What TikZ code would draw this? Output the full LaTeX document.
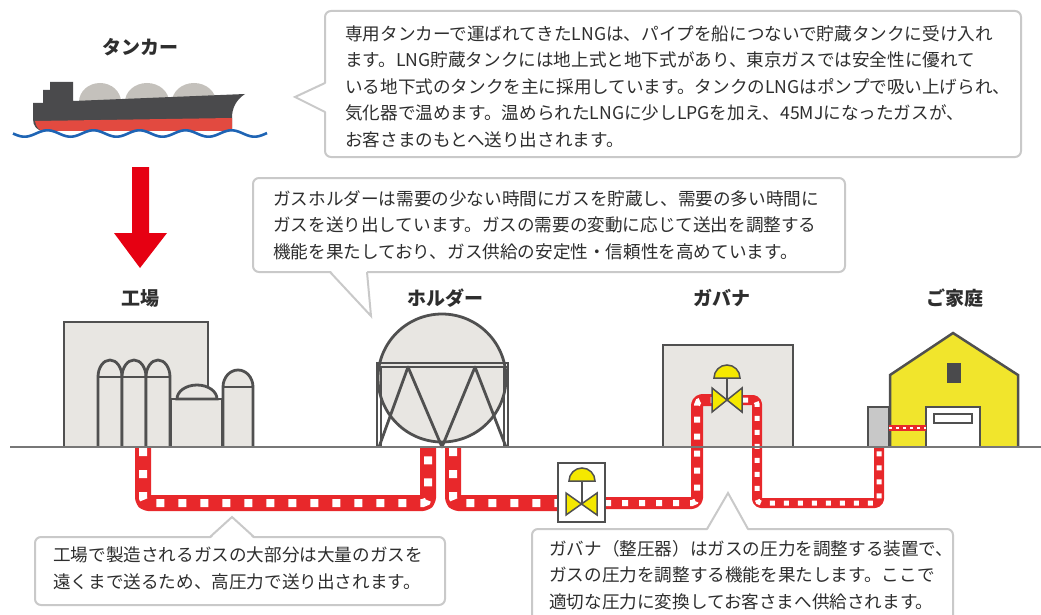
\documentclass[tikz,border=0pt]{standalone}
\usepackage{fontspec}
\setmainfont{Noto Sans CJK JP}
\definecolor{txt}{HTML}{2E2E2E}
\definecolor{calloutgray}{HTML}{C9C9C9}
\definecolor{edge}{HTML}{505050}
\definecolor{bldg}{HTML}{E8E6E2}
\definecolor{pipered}{HTML}{E8282B}
\definecolor{valveyellow}{HTML}{F5E800}
\definecolor{houseyellow}{HTML}{F1E52C}
\definecolor{hull}{HTML}{4A4A4C}
\definecolor{hullred}{HTML}{E24A40}
\definecolor{shipdome}{HTML}{C4C1BC}
\definecolor{sea}{HTML}{1E64B4}
\definecolor{arrowred}{HTML}{E60012}
\definecolor{meter}{HTML}{C8C8C8}
\definecolor{ground}{HTML}{777777}
\begin{document}
\begin{tikzpicture}[x=1pt,y=-1pt,
  callout/.style={draw=calloutgray,line width=2,fill=white,rounded corners=6},
  body/.style={font=\fontsize{17.6}{26.5}\selectfont,text=txt,align=left,anchor=north west,inner sep=0},
  title/.style={font=\bfseries\fontsize{19}{19}\selectfont,text=txt,anchor=center,inner sep=0},
  struct/.style={draw=edge,line width=2.8,fill=bldg},
  valve/.style={draw=edge,line width=1.5,fill=valveyellow},
  bigpipe/.style={draw=white,line width=8,dash pattern=on 8 off 14,rounded corners=5,
    preaction={draw=pipered,line width=16,solid,line join=round}},
  midpipe/.style={draw=white,line width=6,dash pattern=on 6 off 11,rounded corners=5,
    preaction={draw=pipered,line width=12,solid,line join=round}},
  thinpipe/.style={draw=white,line width=5,dash pattern=on 5 off 9,rounded corners=4,
    preaction={draw=pipered,line width=10,solid,line join=round}},
  housepipe/.style={draw=white,line width=2.5,dash pattern=on 3 off 4,
    preaction={draw=pipered,line width=6,solid}}]
\useasboundingbox (0,0) rectangle (1041,615);
\clip (0,0) rectangle (1041,615);

% ---------- tanker ----------
\node[title] (tankerlabel) at (140,47) {タンカー};
\foreach \cx/\r in {100/21,147/22,194/22}
  \fill[shipdome] (\cx-\r,102) arc[start angle=180,end angle=360,x radius=\r,y radius=19];
\fill[hull] (33,103) -- (43,103) -- (43,90) -- (50,90) -- (50,82) -- (73,82) -- (73,101)
  -- (245,94) .. controls (236,100) and (232,108) .. (232,118) -- (232,131)
  -- (44,131) .. controls (37,131) and (33,126) .. (33,119) -- cycle;
\fill[hullred] (35,121) -- (232,118) -- (232,131) -- (44,131)
  .. controls (39,131) and (36,127) .. cycle;
\draw[sea,line width=2.6] plot[domain=13:267,samples=160] (\x,{133.5+3.2*sin((\x-13)/46*360)});

% arrow down to the plant
\fill[arrowred] (132,167) -- (149,167) -- (149,233) -- (167,233) -- (140,268)
  -- (114,233) -- (132,233) -- cycle;

% ---------- callouts ----------
\draw[callout] (325,11) rectangle (1021,157);
\fill[white] (327,83) -- (295,97) -- (327,112) -- cycle;
\draw[calloutgray,line width=2,line join=miter] (325,83) -- (295,97) -- (325,112);
\node[body] (lngtext) at (345,25) {専用タンカーで運ばれてきたLNGは、パイプを船につないで貯蔵タンクに受け入れ\\
ます。LNG貯蔵タンクには地上式と地下式があり、東京ガスでは安全性に優れて\\
いる地下式のタンクを主に採用しています。タンクのLNGはポンプで吸い上げられ、\\
気化器で温めます。温められたLNGに少しLPGを加え、45MJになったガスが、\\
お客さまのもとへ送り出されます。};

\draw[callout] (253,178) rectangle (845,272);
\fill[white] (330,270) -- (371,316) -- (367,270) -- cycle;
\draw[calloutgray,line width=2,line join=miter] (330,272) -- (371,316) -- (367,272);
\node[body] (holdertext) at (273,190) {ガスホルダーは需要の少ない時間にガスを貯蔵し、需要の多い時間に\\
ガスを送り出しています。ガスの需要の変動に応じて送出を調整する\\
機能を果たしており、ガス供給の安定性・信頼性を高めています。};

% ---------- labels ----------
\node[title] (plantlabel) at (140,298) {工場};
\node[title] (holderlabel) at (445,298) {ホルダー};
\node[title] (govlabel) at (722,298) {ガバナ};
\node[title] (homelabel) at (955,298) {ご家庭};

% ---------- plant ----------
\draw[struct] (64,447) -- (64,322) -- (208,322) -- (208,447);
\foreach \x in {98,122,146}{
  \draw[struct] (\x,447) -- (\x,377) arc[start angle=180,end angle=360,x radius=12,y radius=17]
    -- (\x+24,447);
  \draw[edge,line width=2.8] (\x,377) -- (\x+24,377);
}
\draw[struct] (171,447) -- (171,399) -- (222,399) -- (222,447);
\draw[struct] (177,399) arc[start angle=180,end angle=360,x radius=20,y radius=14] -- cycle;
\draw[struct] (223,447) -- (223,387) arc[start angle=180,end angle=360,x radius=15,y radius=17]
  -- (253,447);
\draw[edge,line width=2.8] (223,387) -- (253,387);

% ---------- gas holder ----------
\draw[struct] (442,378) circle[radius=64];
\draw[edge,line width=2.6] (377,363) rectangle (508,367);
\draw[edge,line width=2.6] (377,367) -- (377,447) (381,367) -- (381,447)
  (504,367) -- (504,447) (508,367) -- (508,447);
\draw[edge,line width=2.8,line join=round] (379,447) -- (408,367) -- (442,447) -- (475,367) -- (506,447);

% ---------- governor station ----------
\draw[struct] (663,447) -- (663,345) -- (793,345) -- (793,447);

% ---------- house ----------
\draw[draw=edge,line width=2.5,fill=houseyellow,line join=miter]
  (890,447) -- (890,375) -- (953,333) -- (1018,375) -- (1018,447);
\fill[hull] (947,363) rectangle (961,383);
\draw[draw=edge,line width=2.2,fill=white] (926,447) -- (926,407) -- (980,407) -- (980,447);
\draw[draw=edge,line width=1.8,fill=white] (934,414) rectangle (972,423);
\draw[draw=edge,line width=2,fill=meter] (868,447) -- (868,407) -- (889,407) -- (889,447);

% ---------- pipes ----------
\draw[bigpipe] (143,448) -- (143,503) -- (428,503) -- (428,448);
\draw[bigpipe] (453,448) -- (453,503) -- (558,503);
\draw[midpipe] (605,503) -- (697,503) -- (697,400) -- (712,400);
\draw[thinpipe] (743,400) -- (757,400) -- (757,503) -- (879,503) -- (879,448);
\draw[housepipe] (889,428) -- (926,428);

% pressure regulator in the governor station
\draw[valve] (714,378) arc[start angle=180,end angle=360,radius=13] -- cycle;
\draw[edge,line width=1.5] (727,378) -- (727,400);
\draw[valve] (712,388) -- (742,412) -- (742,388) -- (712,412) -- cycle;

% line valve between holder and governor
\draw[draw=edge,line width=1.7,fill=white] (558,463) rectangle (605,522);
\draw[valve] (569,481) arc[start angle=180,end angle=360,radius=13] -- cycle;
\draw[edge,line width=1.5] (582,481) -- (582,504);
\draw[valve] (566,493) -- (597,515) -- (597,493) -- (566,515) -- cycle;

% ground
\draw[ground,line width=2] (10,447) -- (1041,447);

% ---------- lower callouts ----------
\draw[callout] (35,537) rectangle (445,605);
\fill[white] (210,539) -- (232,517) -- (254,539) -- cycle;
\draw[calloutgray,line width=2,line join=miter] (210,537) -- (232,517) -- (254,537);
\node[body] (planttext) at (53,547) {工場で製造されるガスの大部分は大量のガスを\\
遠くまで送るため、高圧力で送り出されます。};

\draw[callout] (532,529) rectangle (953,630);
\fill[white] (707,531) -- (728,493) -- (748,531) -- cycle;
\draw[calloutgray,line width=2,line join=miter] (707,529) -- (728,493) -- (748,529);
\node[body] (govtext) at (549,540) {ガバナ（整圧器）はガスの圧力を調整する装置で、\\
ガスの圧力を調整する機能を果たします。ここで\\
適切な圧力に変換してお客さまへ供給されます。};
\end{tikzpicture}
\end{document}
